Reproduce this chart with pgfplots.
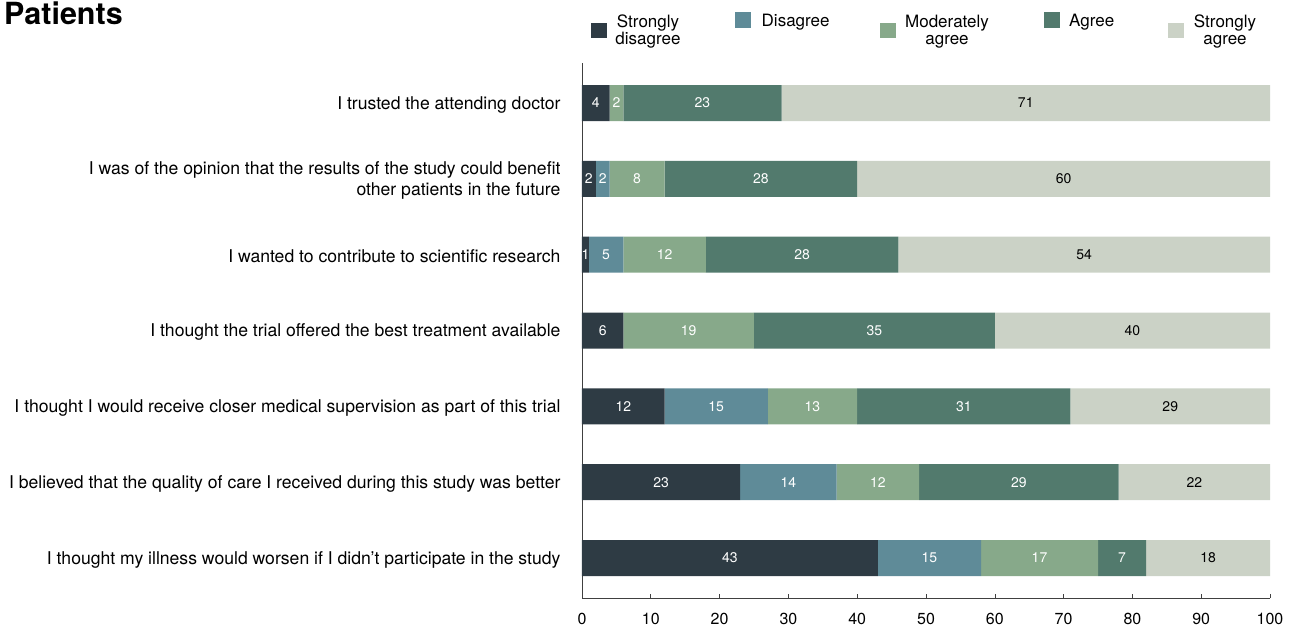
\documentclass[border=0pt]{standalone}
\usepackage{pgfplots}
\pgfplotsset{compat=1.18}
\usepackage{pgfplotstable}
\usepackage{fontspec}
\setmainfont{TeX Gyre Heros}
\definecolor{csd}{HTML}{2E3B44}
\definecolor{cd}{HTML}{5F8B98}
\definecolor{cma}{HTML}{87A98A}
\definecolor{ca}{HTML}{527A6D}
\definecolor{csa}{HTML}{CBD2C6}
% segment values, one row per statement (y=6 is the top bar)
\pgfplotstableread{
y sd d ma a sa
6 4 0 2 23 71
5 2 2 8 28 60
4 1 5 12 28 54
3 6 0 19 35 40
2 12 15 13 31 29
1 23 14 12 29 22
0 43 15 17 7 18
}\data
% value labels: centre of each segment (x), bar (y), printed value (v)
\pgfplotstableread{
x y v
2 6 4
5 6 2
17.5 6 23
1 5 2
3 5 2
8 5 8
26 5 28
0.5 4 1
3.5 4 5
12 4 12
32 4 28
3 3 6
15.5 3 19
42.5 3 35
6 2 12
19.5 2 15
33.5 2 13
55.5 2 31
11.5 1 23
30 1 14
43 1 12
63.5 1 29
21.5 0 43
50.5 0 15
66.5 0 17
78.5 0 7
}\whitelabels
\pgfplotstableread{
x y v
64.5 6 71
70 5 60
73 4 54
80 3 40
85.5 2 29
89 1 22
91 0 18
}\blacklabels
\begin{document}
\begin{tikzpicture}[x=1pt,y=1pt]
\useasboundingbox (0,0) rectangle (1294,-628);
\begin{axis}[
  at={(582pt,-598pt)}, anchor=south west,
  scale only axis, width=688pt, height=534.7pt,
  xbar stacked, bar width=36pt,
  xmin=0, xmax=100, ymin=-0.527, ymax=6.524,
  axis x line*=bottom, axis y line*=left,
  axis line style={draw=black!75, line width=0.8pt},
  xtick={0,10,...,100},
  ytick={0,...,6},
  yticklabels={
    {I thought my illness would worsen if I didn’t participate in the study},
    {I believed that the quality of care I received during this study was better},
    {I thought I would receive closer medical supervision as part of this trial},
    {I thought the trial offered the best treatment available},
    {I wanted to contribute to scientific research},
    {I was of the opinion that the results of the study could benefit\\other patients in the future},
    {I trusted the attending doctor}},
  tick align=inside,
  x tick style={draw=black!75, line width=0.6pt},
  major tick length=4pt,
  y tick style={draw=none},
  /pgf/number format/assume math mode=true,
  xticklabel style={font=\fontsize{16}{19}\selectfont, yshift=-12pt},
  yticklabel style={font=\fontsize{17.6}{21}\selectfont, align=right, xshift=-18pt, yshift=-1.5pt},
]
\addplot[fill=csd, draw=none] table[x=sd,y=y]{\data};
\addplot[fill=cd, draw=none] table[x=d,y=y]{\data};
\addplot[fill=cma, draw=none] table[x=ma,y=y]{\data};
\addplot[fill=ca, draw=none] table[x=a,y=y]{\data};
\addplot[fill=csa, draw=none] table[x=sa,y=y]{\data};
\end{axis}
\begin{axis}[
  at={(582pt,-598pt)}, anchor=south west,
  scale only axis, width=688pt, height=534.7pt,
  xmin=0, xmax=100, ymin=-0.527, ymax=6.524,
  hide axis, clip=false,
  point meta=explicit,
  nodes near coords,
  every node near coord/.append style={anchor=center, font=\fontsize{14}{16}\selectfont, inner sep=0pt},
  /pgf/number format/assume math mode=true,
]
\addplot[only marks, mark=none, every node near coord/.append style={text=white}] table[x=x,y=y,meta=v]{\whitelabels};
\addplot[only marks, mark=none, every node near coord/.append style={text=black}] table[x=x,y=y,meta=v]{\blacklabels};
\end{axis}
\node[anchor=base west, inner sep=0, font=\bfseries\fontsize{30.5}{36}\selectfont] at (4,-25) {Patients};
\begin{scope}[every node/.style={font=\fontsize{17}{20}\selectfont, inner sep=0}]
\fill[csd] (591,-23) rectangle (606.5,-38.5);
\node[anchor=base] at (648,-27.7) {Strongly};
\node[anchor=base] at (648,-44.7) {disagree};
\fill[cd] (735,-12.3) rectangle (750.5,-28);
\node[anchor=base west] at (761.5,-26.7) {Disagree};
\fill[cma] (880,-23) rectangle (896,-38.5);
\node[anchor=base] at (947,-27.7) {Moderately};
\node[anchor=base] at (947,-44.7) {agree};
\fill[ca] (1044,-12.3) rectangle (1059.5,-28);
\node[anchor=base west] at (1069,-26.7) {Agree};
\fill[csa] (1168,-23) rectangle (1183.5,-38.5);
\node[anchor=base] at (1225,-27.7) {Strongly};
\node[anchor=base] at (1225,-44.7) {agree};
\end{scope}
\end{tikzpicture}
\end{document}
